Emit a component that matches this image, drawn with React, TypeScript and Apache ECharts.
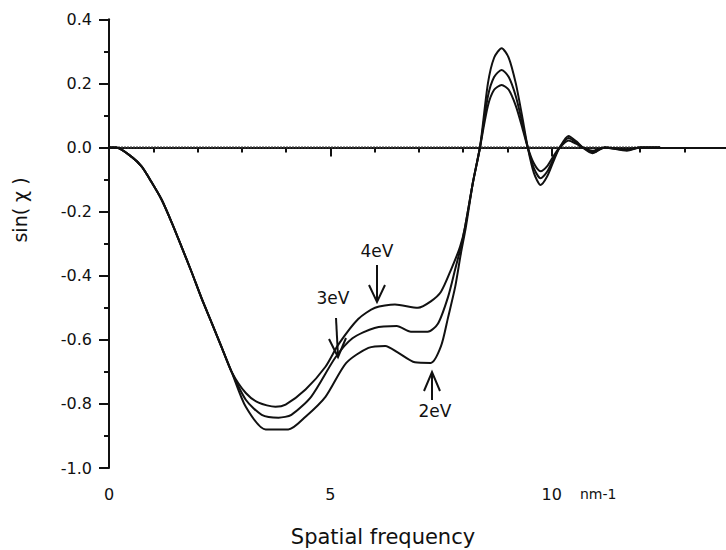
import React, { useEffect, useRef } from "react";
import * as echarts from "echarts";

// Spatial frequency (nm-1) and sin(chi) values for the three energy spreads
const freq4eV = [0, 0.16, 0.52, 0.74, 0.97, 1.19, 1.42, 1.64, 1.87, 2.09, 2.32, 2.55, 2.77,
  3.09, 3.38, 3.76, 3.99, 4.44, 4.89, 5.18, 5.63, 6.01, 6.46, 6.98, 7.27, 7.5, 7.73, 7.93, 8.04,
  8.22, 8.38, 8.56, 8.7, 8.87, 9.03, 9.19, 9.33, 9.46, 9.6, 9.75, 9.9, 10.05, 10.18, 10.38, 10.55,
  10.7, 10.92, 11.2, 11.7, 12.0, 12.45];
const sin4eV = [0, 0, -0.03, -0.06, -0.11, -0.163, -0.235, -0.31, -0.39, -0.47, -0.547, -0.625, -0.7,
  -0.766, -0.796, -0.809, -0.802, -0.755, -0.684, -0.615, -0.535, -0.5, -0.49, -0.5, -0.48, -0.45, -0.38, -0.31, -0.25,
  -0.11, 0, 0.13, 0.18, 0.195, 0.18, 0.13, 0.065, 0, -0.05, -0.074, -0.058, -0.025, 0, 0.022, 0.012,
  0, -0.01, 0, -0.006, 0, 0];

const freq3eV = [0, 0.16, 0.52, 0.74, 0.97, 1.19, 1.42, 1.64, 1.87, 2.09, 2.32, 2.55, 2.77,
  3.09, 3.45, 3.83, 4.12, 4.57, 5.11, 5.5, 6.0, 6.5, 6.82, 7.2, 7.43, 7.66, 7.82, 8.0,
  8.22, 8.38, 8.56, 8.7, 8.87, 9.03, 9.19, 9.33, 9.46, 9.6, 9.75, 9.9, 10.05, 10.18, 10.38, 10.55,
  10.7, 10.92, 11.2, 11.7, 12.0, 12.45];
const sin3eV = [0, 0, -0.03, -0.06, -0.11, -0.163, -0.235, -0.31, -0.39, -0.47, -0.547, -0.625, -0.7,
  -0.787, -0.834, -0.843, -0.834, -0.777, -0.656, -0.595, -0.563, -0.557, -0.575, -0.575, -0.55, -0.466, -0.38, -0.28,
  -0.11, 0, 0.16, 0.22, 0.242, 0.22, 0.16, 0.08, 0, -0.065, -0.096, -0.075, -0.033, 0, 0.03, 0.016,
  0, -0.014, 0, -0.008, 0, 0];

const freq2eV = [0, 0.16, 0.52, 0.74, 0.97, 1.19, 1.42, 1.64, 1.87, 2.09, 2.32, 2.55, 2.77,
  3.09, 3.54, 4.05, 4.44, 4.89, 5.36, 5.86, 6.24, 6.53, 6.91, 7.27, 7.5, 7.66, 7.82, 7.95, 8.06,
  8.22, 8.38, 8.56, 8.7, 8.87, 9.03, 9.19, 9.33, 9.46, 9.6, 9.75, 9.9, 10.05, 10.18, 10.38, 10.55,
  10.7, 10.92, 11.2, 11.7, 12.0, 12.45];
const sin2eV = [0, 0, -0.03, -0.06, -0.11, -0.163, -0.235, -0.31, -0.39, -0.47, -0.547, -0.625, -0.7,
  -0.809, -0.88, -0.88, -0.84, -0.778, -0.672, -0.625, -0.619, -0.64, -0.67, -0.672, -0.62, -0.53, -0.435, -0.33, -0.25,
  -0.11, 0, 0.2, 0.28, 0.31, 0.28, 0.2, 0.1, 0, -0.08, -0.117, -0.09, -0.04, 0, 0.036, 0.02,
  0, -0.018, 0, -0.01, 0, 0];

const zeroLineX = [0, 12.45];
const zeroLineY = [0, 0];

const xTickLabels = ["0", "5", "10"];
const yTickLabels = ["0.4", "0.2", "0.0", "-0.2", "-0.4", "-0.6", "-0.8", "-1.0"];

const FONT = "DejaVu Sans";
const INK = "#111";

const zip = (xs: number[], ys: number[]) => xs.map((x, i) => [x, ys[i]]);

export default function App() {
  const ref = useRef<HTMLDivElement>(null);
  useEffect(() => {
    if (!ref.current) return;
    const chart = echarts.init(ref.current, undefined, { renderer: "svg" });
    const curve = (name: string, xs: number[], ys: number[]) => ({
      name,
      type: "line",
      data: zip(xs, ys),
      showSymbol: false,
      smooth: 0.25,
      lineStyle: { color: INK, width: 2 },
      z: 3,
    });
    chart.setOption({
      animation: false,
      backgroundColor: "#fff",
      grid: { left: 109, width: 666, top: 19.3, height: 448.7, containLabel: false },
      xAxis: {
        type: "value",
        min: 0,
        max: 15,
        interval: 5,
        axisLine: { show: true, lineStyle: { color: INK, width: 2 } },
        axisTick: { show: true, inside: false, length: 9, lineStyle: { color: INK, width: 2 } },
        minorTick: { show: true, splitNumber: 5, length: 5, lineStyle: { color: INK, width: 2 } },
        splitLine: { show: false },
        axisLabel: {
          margin: 18,
          fontFamily: FONT,
          fontSize: 16,
          color: INK,
          formatter: (v: number) => (xTickLabels.includes(String(v)) ? String(v) : ""),
        },
      },
      yAxis: {
        type: "value",
        min: -1,
        max: 0.4,
        interval: 0.2,
        axisLine: { show: true, lineStyle: { color: INK, width: 2 } },
        axisTick: { show: true, inside: false, length: 10, lineStyle: { color: INK, width: 2 } },
        minorTick: { show: true, splitNumber: 2, length: 5, lineStyle: { color: INK, width: 2 } },
        splitLine: { show: false },
        axisLabel: {
          margin: 17,
          fontFamily: FONT,
          fontSize: 16,
          color: INK,
          formatter: (v: number) => {
            const s = v.toFixed(1);
            const t = s === "-0.0" ? "0.0" : s;
            return yTickLabels.includes(t) ? t : "";
          },
        },
      },
      series: [
        {
          name: "zero",
          type: "line",
          data: zip(zeroLineX, zeroLineY),
          showSymbol: false,
          lineStyle: { color: "#333", width: 2, type: [2, 1] },
          z: 2,
        },
        curve("4eV", freq4eV, sin4eV),
        curve("3eV", freq3eV, sin3eV),
        curve("2eV", freq2eV, sin2eV),
      ],
      graphic: [
        { type: "text", x: 19.5, y: 210, rotation: Math.PI / 2,
          style: { text: "sin( χ )", fontFamily: FONT, fontSize: 19, fill: INK, align: "center", verticalAlign: "middle" } },
        { type: "text", x: 383, y: 537,
          style: { text: "Spatial frequency", fontFamily: FONT, fontSize: 21, fill: INK, align: "center", verticalAlign: "middle" } },
        { type: "text", x: 580, y: 494,
          style: { text: "nm-1", fontFamily: FONT, fontSize: 14, fill: INK, align: "left", verticalAlign: "middle" } },
        { type: "text", x: 377, y: 251,
          style: { text: "4eV", fontFamily: FONT, fontSize: 17, fill: INK, align: "center", verticalAlign: "middle" } },
        { type: "text", x: 333, y: 298,
          style: { text: "3eV", fontFamily: FONT, fontSize: 17, fill: INK, align: "center", verticalAlign: "middle" } },
        { type: "text", x: 435, y: 411,
          style: { text: "2eV", fontFamily: FONT, fontSize: 17, fill: INK, align: "center", verticalAlign: "middle" } },
        { type: "line", shape: { x1: 377, y1: 265, x2: 377, y2: 301 }, style: { stroke: INK, lineWidth: 2 } },
        { type: "polyline", shape: { points: [[369, 285], [377, 302], [385, 285]] }, style: { stroke: INK, lineWidth: 2, fill: "none" } },
        { type: "line", shape: { x1: 336, y1: 318, x2: 338, y2: 356 }, style: { stroke: INK, lineWidth: 2 } },
        { type: "polyline", shape: { points: [[329, 339], [338, 357], [346, 338]] }, style: { stroke: INK, lineWidth: 2, fill: "none" } },
        { type: "line", shape: { x1: 432, y1: 400, x2: 432, y2: 373 }, style: { stroke: INK, lineWidth: 2 } },
        { type: "polyline", shape: { points: [[424, 391], [432, 372], [440, 391]] }, style: { stroke: INK, lineWidth: 2, fill: "none" } },
      ],
    });
    return () => chart.dispose();
  }, []);
  return (
    <div
      style={{ position: "fixed", left: 0, top: 0, width: 726, height: 550, overflow: "hidden", background: "#fff" }}
    >
      <div ref={ref} style={{ width: 776, height: 550 }} />
    </div>
  );
}
